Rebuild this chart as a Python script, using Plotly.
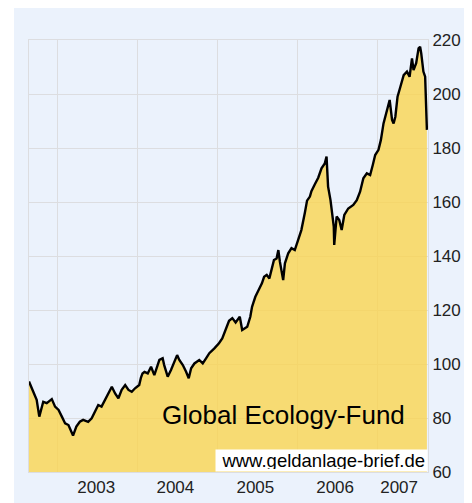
import plotly.graph_objects as go

dates = [
    "2002-08-23", "2002-09-12", "2002-09-27", "2002-10-09", "2002-10-27", "2002-11-12",
    "2002-12-05", "2002-12-20", "2003-01-05", "2003-01-20", "2003-02-04", "2003-02-19",
    "2003-03-12", "2003-03-27", "2003-04-12", "2003-04-27", "2003-05-20", "2003-06-05",
    "2003-06-20", "2003-07-05", "2003-07-20", "2003-08-05", "2003-08-20", "2003-09-05",
    "2003-09-20", "2003-10-05", "2003-10-20", "2003-11-05", "2003-11-20", "2003-12-05",
    "2003-12-20", "2004-01-08", "2004-01-16", "2004-01-23", "2004-02-01", "2004-02-16",
    "2004-03-02", "2004-03-17", "2004-04-09", "2004-04-24", "2004-05-01", "2004-05-17",
    "2004-06-01", "2004-06-16", "2004-06-29", "2004-07-09", "2004-07-25", "2004-08-09",
    "2004-08-21", "2004-09-01", "2004-09-16", "2004-10-08", "2004-10-24", "2004-11-08",
    "2004-11-23", "2004-12-16", "2005-01-06", "2005-01-21", "2005-02-06", "2005-02-21",
    "2005-03-08", "2005-03-23", "2005-04-11", "2005-04-22", "2005-05-15", "2005-05-29",
    "2005-06-06", "2005-06-21", "2005-07-06", "2005-07-21", "2005-07-31", "2005-08-12",
    "2005-08-24", "2005-09-04", "2005-09-14", "2005-09-26", "2005-10-04", "2005-10-11",
    "2005-10-19", "2005-10-26", "2005-11-03", "2005-11-18", "2005-12-03", "2005-12-18",
    "2006-01-02", "2006-01-17", "2006-02-02", "2006-02-12", "2006-02-25", "2006-03-04",
    "2006-03-19", "2006-04-04", "2006-04-19", "2006-05-04", "2006-05-12", "2006-05-19",
    "2006-05-30", "2006-06-08", "2006-06-14", "2006-06-16", "2006-06-27", "2006-07-09",
    "2006-07-20", "2006-08-01", "2006-08-19", "2006-09-11", "2006-09-27", "2006-10-12",
    "2006-10-27", "2006-11-12", "2006-11-27", "2006-12-09", "2006-12-20", "2007-01-04",
    "2007-01-15", "2007-01-27", "2007-02-12", "2007-02-24", "2007-03-07", "2007-03-14",
    "2007-03-22", "2007-04-01", "2007-04-14", "2007-04-29", "2007-05-14", "2007-05-26",
    "2007-06-06", "2007-06-13", "2007-06-25", "2007-07-06", "2007-07-13", "2007-07-18",
    "2007-07-28", "2007-08-05", "2007-08-13",
]

prices = [
    93.5, 89.7, 86.7, 80.5, 86.0, 85.5,
    87.0, 84.2, 83.0, 80.5, 78.0, 77.4,
    73.5, 76.8, 78.6, 79.3, 78.6, 79.9,
    82.3, 84.8, 84.2, 86.7, 89.1, 91.6,
    89.1, 87.3, 90.4, 92.2, 90.4, 89.7,
    91.0, 92.2, 95.0, 96.5, 97.1, 96.5,
    99.0, 95.9, 101.5, 102.1, 99.6, 95.3,
    97.8, 100.9, 103.3, 101.5, 99.6, 97.1,
    94.7, 98.4, 100.2, 101.5, 100.2, 102.1,
    104.0, 105.8, 107.7, 109.5, 113.0, 116.0,
    117.0, 115.4, 117.5, 112.6, 113.8, 117.5,
    121.2, 124.9, 127.4, 129.9, 132.3, 133.0,
    131.7, 135.4, 138.5, 139.1, 142.2, 137.9,
    134.2, 131.1, 137.3, 141.0, 142.9, 142.2,
    145.9, 149.6, 156.0, 160.5, 162.0, 164.0,
    166.5, 169.0, 172.5, 174.3, 176.8, 165.7,
    160.7, 155.8, 150.9, 144.1, 154.6, 153.3,
    149.6, 155.2, 157.6, 158.9, 160.7, 163.8,
    168.8, 170.6, 170.0, 173.7, 177.4, 179.3,
    183.0, 189.1, 194.7, 197.8, 190.4, 189.1,
    191.6, 199.0, 202.7, 207.0, 208.3, 206.4,
    213.2, 208.9, 211.4, 216.9, 217.5, 215.1,
    208.3, 206.4, 186.7,
]

year_grid_dates = ["2003-01-01", "2004-01-01", "2005-01-01", "2006-01-01", "2007-01-01"]
year_label_dates = ["2003-06-26", "2004-06-21", "2005-06-21", "2006-06-20", "2007-04-08"]
year_labels = ["2003", "2004", "2005", "2006", "2007"]
y_ticks = [60, 80, 100, 120, 140, 160, 180, 200, 220]

FONT = "Liberation Sans, Arial, sans-serif"
GRID = "#DCDDE0"

fig = go.Figure()
fig.add_trace(go.Scatter(
    x=dates, y=prices, mode="lines",
    line=dict(color="black", width=2.4),
    fill="tozeroy", fillcolor="rgba(250,212,80,0.8)",
    hoverinfo="skip", showlegend=False,
))

fig.update_layout(
    template="none",
    width=472, height=503,
    margin=dict(l=21, r=52, t=32, b=39, autoexpand=False),
    paper_bgcolor="white",
    plot_bgcolor="#E8F1FC",
    font=dict(family=FONT, size=17, color="#222222"),
    xaxis=dict(
        type="date", automargin=False,
        range=["2002-08-23", "2007-08-18"],
        tickmode="array", tickvals=year_label_dates, ticktext=year_labels,
        showgrid=False, ticks="", zeroline=False,
        showline=True, linecolor=GRID, linewidth=1, mirror=True,
        minor=dict(tickmode="array", tickvals=year_grid_dates, showgrid=True,
                   gridcolor=GRID, gridwidth=1, ticks=""),
        tickfont=dict(size=17, color="#222222"),
    ),
    yaxis=dict(
        automargin=False,
        range=[60, 220], side="right",
        tickmode="array", tickvals=y_ticks,
        showgrid=True, gridcolor=GRID, gridwidth=1,
        ticks="", zeroline=False,
        showline=True, linecolor=GRID, linewidth=1, mirror=True,
        tickfont=dict(size=17, color="#222222"),
    ),
    shapes=[dict(
        type="rect", xref="paper", yref="paper",
        x0=-0.0376, x1=1.2, y0=-0.12, y1=1.08,
        fillcolor="#EBF2FC", line=dict(width=0), layer="below",
    )],
    annotations=[
        dict(text="Global Ecology-Fund", xref="paper", yref="paper",
             x=0.637, y=0.132, xanchor="center", yanchor="middle",
             showarrow=False, font=dict(family=FONT, size=26, color="black")),
        dict(text="www.geldanlage-brief.de", xref="paper", yref="paper",
             x=1.0, y=0.0, xanchor="right", yanchor="bottom",
             showarrow=False, bgcolor="white", align="right",
             width=207, height=17, borderpad=2,
             font=dict(family=FONT, size=18.5, color="black")),
    ],
)

fig.write_html("out.html")
